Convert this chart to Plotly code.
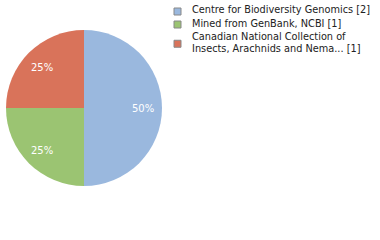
import math
import plotly.graph_objects as go

labels = ["Centre for Biodiversity Genomics [2]",
          "Mined from GenBank, NCBI [1]",
          "Canadian National Collection of<br>Insects, Arachnids and Nema... [1]"]
values = [2, 1, 1]
colors = ["#9ab8de", "#9bc472", "#d9735a"]

W, H = 380, 240
cx, cy, r = 84, 108, 78  # pie centre and radius in pixels

fig = go.Figure(go.Pie(
    labels=labels, values=values, sort=False, direction="clockwise", rotation=0,
    marker=dict(colors=colors, line=dict(width=0)),
    textinfo="none", hoverinfo="none", showlegend=False,
    domain=dict(x=[(cx - r) / W, (cx + r) / W], y=[1 - (cy + r) / H, 1 - (cy - r) / H]),
))

annotations = []
shapes = []
total = sum(values)
acc = 0
for v in values:
    mid = (acc + v / 2) / total * 2 * math.pi
    acc += v
    px = cx + 0.76 * r * math.sin(mid)
    py = cy + 1 - 0.76 * r * math.cos(mid)
    annotations.append(dict(x=px / W, y=1 - py / H, xref="paper", yref="paper",
                            text=f"{round(100 * v / total)}%", showarrow=False,
                            xanchor="center", yanchor="middle",
                            font=dict(color="white", size=10, family="DejaVu Sans")))

# legend
line_h = 12.5
y = 10
for lab, col in zip(labels, colors):
    lines = lab.split("<br>")
    n = len(lines)
    sq_c = y + (n - 1) * line_h / 2 + 1.5
    shapes.append(dict(type="rect", xref="paper", yref="paper",
                       x0=174 / W, x1=181 / W, y0=1 - (sq_c - 3.5) / H, y1=1 - (sq_c + 3.5) / H,
                       fillcolor=col, line=dict(color="#888888", width=1)))
    for i, ln in enumerate(lines):
        annotations.append(dict(x=191 / W, y=1 - (y + i * line_h) / H, xref="paper", yref="paper",
                                text=ln, showarrow=False, xanchor="left", yanchor="middle",
                                borderpad=0,
                                font=dict(color="#222222", size=9.75, family="DejaVu Sans")))
    y += n * line_h + 0.5

fig.update_layout(
    width=W, height=H, margin=dict(l=0, r=0, t=0, b=0),
    paper_bgcolor="white", plot_bgcolor="white",
    annotations=annotations, shapes=shapes, showlegend=False,
)
fig.write_html("out.html")
